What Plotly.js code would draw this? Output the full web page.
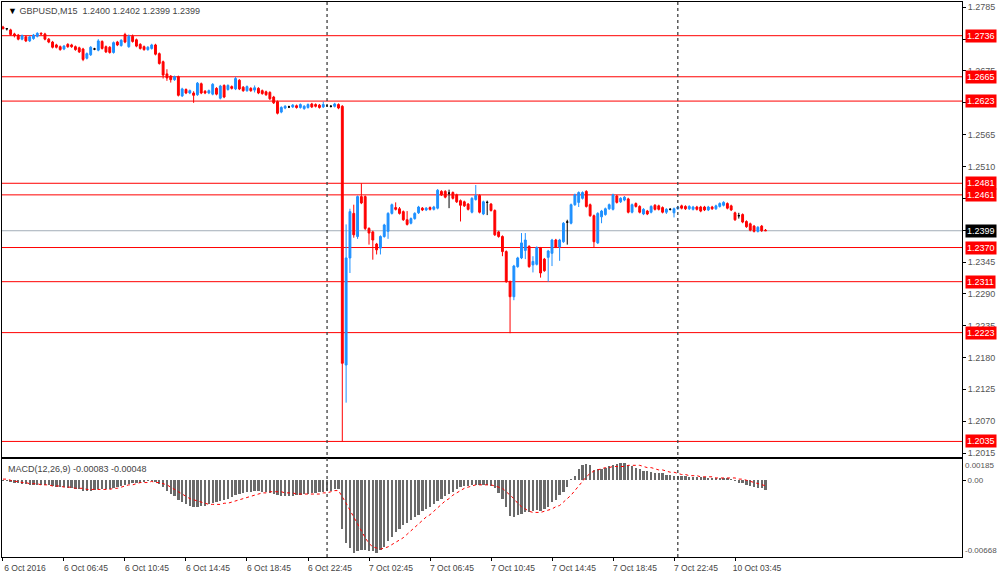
<!DOCTYPE html>
<html>
<head>
<meta charset="utf-8">
<script src="https://cdn.plot.ly/plotly-3.0.1.min.js"></script>
<style>
html,body{margin:0;padding:0;background:#fff;}
#chart{width:1000px;height:578px;}
</style>
</head>
<body>
<div id="chart"></div>
<script>
// ---- data (GBPUSD M15) ----
const symbol = "GBPUSD,M15";
const openP = [
1.2751,1.2748,1.2746,1.2739,1.2737,1.2730,1.2734,1.2727,1.2731,1.2735,
1.2740,1.2739,1.2730,1.2725,1.2720,1.2717,1.2713,1.2721,1.2720,1.2717,
1.2715,1.2713,1.2697,1.2703,1.2713,1.2711,1.2726,1.2717,1.2716,1.2707,
1.2725,1.2719,1.2738,1.2717,1.2735,1.2729,1.2721,1.2717,1.2712,1.2714,
1.2720,1.2705,1.2691,1.2670,1.2666,1.2660,1.2665,1.2632,1.2643,1.2637,
1.2637,1.2634,1.2653,1.2640,1.2637,1.2635,1.2645,1.2628,1.2650,1.2643,
1.2648,1.2644,1.2659,1.2647,1.2641,1.2645,1.2642,1.2645,1.2641,1.2639,
1.2638,1.2630,1.2622,1.2604,1.2611,1.2613,1.2613,1.2615,1.2612,1.2610,
1.2612,1.2618,1.2617,1.2616,1.2613,1.2615,1.2614,1.2614,1.2617,1.2614,
1.2167,1.2352,1.2429,1.2389,1.2458,1.2458,1.2403,1.2397,1.2376,1.2369,
1.2389,1.2398,1.2429,1.2439,1.2437,1.2432,1.2418,1.2412,1.2420,1.2430,
1.2438,1.2435,1.2439,1.2436,1.2438,1.2467,1.2467,1.2464,1.2465,1.2461,
1.2451,1.2449,1.2445,1.2431,1.2453,1.2460,1.2428,1.2448,1.2445,1.2434,
1.2397,1.2389,1.2363,1.2311,1.2285,1.2337,1.2352,1.2365,1.2372,1.2340,
1.2341,1.2369,1.2350,1.2353,1.2360,1.2383,1.2371,1.2380,1.2414,1.2412,
1.2444,1.2448,1.2455,1.2467,1.2444,1.2425,1.2378,1.2423,1.2427,1.2437,
1.2436,1.2459,1.2449,1.2452,1.2454,1.2431,1.2446,1.2441,1.2428,1.2433,
1.2431,1.2443,1.2442,1.2439,1.2431,1.2436,1.2430,1.2437,1.2442,1.2441,
1.2437,1.2436,1.2440,1.2440,1.2440,1.2435,1.2440,1.2437,1.2441,1.2443,
1.2446,1.2442,1.2430,1.2425,1.2427,1.2415,1.2411,1.2407,1.2398,1.2407,
1.2400];
const highP = [
1.2753,1.2749,1.2748,1.2741,1.2739,1.2738,1.2736,1.2736,1.2739,1.2742,
1.2742,1.2741,1.2732,1.2727,1.2722,1.2719,1.2720,1.2723,1.2722,1.2719,
1.2717,1.2715,1.2707,1.2718,1.2715,1.2730,1.2728,1.2719,1.2718,1.2726,
1.2727,1.2730,1.2741,1.2738,1.2738,1.2731,1.2723,1.2719,1.2718,1.2722,
1.2722,1.2707,1.2693,1.2678,1.2668,1.2667,1.2667,1.2646,1.2645,1.2643,
1.2640,1.2656,1.2655,1.2642,1.2643,1.2654,1.2647,1.2651,1.2652,1.2652,
1.2650,1.2665,1.2661,1.2649,1.2650,1.2647,1.2650,1.2647,1.2643,1.2641,
1.2640,1.2632,1.2624,1.2614,1.2616,1.2615,1.2618,1.2617,1.2619,1.2616,
1.2619,1.2620,1.2619,1.2618,1.2622,1.2617,1.2616,1.2620,1.2619,1.2616,
1.2410,1.2437,1.2444,1.2460,1.2481,1.2460,1.2405,1.2399,1.2378,1.2391,
1.2411,1.2431,1.2446,1.2448,1.2440,1.2434,1.2433,1.2422,1.2431,1.2442,
1.2440,1.2440,1.2441,1.2442,1.2471,1.2469,1.2469,1.2470,1.2467,1.2463,
1.2453,1.2451,1.2447,1.2457,1.2478,1.2462,1.2451,1.2451,1.2447,1.2436,
1.2399,1.2391,1.2365,1.2313,1.2340,1.2354,1.2395,1.2395,1.2374,1.2355,
1.2372,1.2371,1.2352,1.2366,1.2385,1.2385,1.2385,1.2414,1.2418,1.2446,
1.2463,1.2467,1.2467,1.2469,1.2446,1.2427,1.2431,1.2435,1.2439,1.2446,
1.2463,1.2461,1.2457,1.2459,1.2456,1.2446,1.2448,1.2443,1.2438,1.2435,
1.2443,1.2445,1.2444,1.2441,1.2438,1.2438,1.2439,1.2442,1.2444,1.2443,
1.2443,1.2442,1.2442,1.2442,1.2442,1.2442,1.2442,1.2444,1.2448,1.2450,
1.2448,1.2444,1.2432,1.2430,1.2429,1.2417,1.2413,1.2409,1.2407,1.2409,
1.2402];
const lowP = [
1.2747,1.2745,1.2736,1.2733,1.2728,1.2728,1.2725,1.2725,1.2729,1.2733,
1.2737,1.2728,1.2723,1.2714,1.2714,1.2710,1.2711,1.2715,1.2715,1.2710,
1.2706,1.2692,1.2695,1.2701,1.2711,1.2709,1.2712,1.2706,1.2705,1.2705,
1.2718,1.2717,1.2723,1.2715,1.2724,1.2716,1.2712,1.2710,1.2710,1.2712,
1.2702,1.2686,1.2662,1.2658,1.2655,1.2658,1.2631,1.2630,1.2635,1.2635,
1.2620,1.2632,1.2635,1.2635,1.2635,1.2633,1.2633,1.2626,1.2628,1.2641,
1.2643,1.2642,1.2642,1.2639,1.2639,1.2639,1.2638,1.2635,1.2634,1.2632,
1.2625,1.2618,1.2600,1.2602,1.2609,1.2611,1.2611,1.2610,1.2610,1.2608,
1.2610,1.2611,1.2612,1.2610,1.2611,1.2613,1.2612,1.2612,1.2609,1.2035,
1.2102,1.2326,1.2387,1.2385,1.2445,1.2400,1.2375,1.2349,1.2358,1.2358,
1.2387,1.2385,1.2427,1.2434,1.2427,1.2416,1.2408,1.2410,1.2418,1.2428,
1.2433,1.2433,1.2434,1.2434,1.2436,1.2459,1.2455,1.2438,1.2453,1.2447,
1.2415,1.2440,1.2434,1.2429,1.2451,1.2429,1.2426,1.2426,1.2432,1.2390,
1.2387,1.2355,1.2309,1.2222,1.2279,1.2335,1.2350,1.2350,1.2335,1.2327,
1.2339,1.2318,1.2328,1.2311,1.2338,1.2369,1.2347,1.2378,1.2375,1.2410,
1.2442,1.2440,1.2453,1.2439,1.2423,1.2370,1.2376,1.2412,1.2425,1.2435,
1.2434,1.2446,1.2447,1.2450,1.2429,1.2429,1.2439,1.2429,1.2426,1.2426,
1.2429,1.2434,1.2434,1.2429,1.2428,1.2434,1.2422,1.2435,1.2436,1.2435,
1.2435,1.2434,1.2434,1.2431,1.2433,1.2433,1.2435,1.2435,1.2439,1.2441,
1.2436,1.2433,1.2416,1.2420,1.2412,1.2404,1.2398,1.2396,1.2396,1.2397,
1.2399];
const closeP = [
1.2748,1.2748,1.2738,1.2736,1.2730,1.2736,1.2727,1.2734,1.2737,1.2740,
1.2739,1.2730,1.2725,1.2716,1.2716,1.2712,1.2718,1.2717,1.2717,1.2712,
1.2708,1.2695,1.2705,1.2716,1.2713,1.2727,1.2714,1.2708,1.2707,1.2724,
1.2720,1.2728,1.2725,1.2735,1.2726,1.2718,1.2714,1.2712,1.2716,1.2720,
1.2704,1.2688,1.2668,1.2663,1.2660,1.2665,1.2633,1.2644,1.2637,1.2641,
1.2633,1.2654,1.2637,1.2637,1.2641,1.2652,1.2635,1.2649,1.2630,1.2650,
1.2645,1.2662,1.2644,1.2641,1.2648,1.2641,1.2646,1.2637,1.2636,1.2634,
1.2627,1.2620,1.2602,1.2612,1.2614,1.2613,1.2616,1.2612,1.2617,1.2614,
1.2617,1.2613,1.2614,1.2612,1.2617,1.2615,1.2614,1.2618,1.2611,1.2170,
1.2352,1.2432,1.2392,1.2458,1.2447,1.2403,1.2395,1.2383,1.2366,1.2389,
1.2409,1.2429,1.2444,1.2436,1.2429,1.2418,1.2410,1.2420,1.2429,1.2440,
1.2435,1.2438,1.2436,1.2440,1.2469,1.2461,1.2457,1.2464,1.2455,1.2449,
1.2443,1.2442,1.2436,1.2455,1.2460,1.2431,1.2449,1.2448,1.2434,1.2392,
1.2389,1.2363,1.2311,1.2285,1.2338,1.2352,1.2378,1.2383,1.2337,1.2346,
1.2370,1.2326,1.2330,1.2364,1.2383,1.2371,1.2383,1.2412,1.2414,1.2444,
1.2461,1.2465,1.2465,1.2441,1.2425,1.2380,1.2429,1.2433,1.2437,1.2444,
1.2461,1.2448,1.2455,1.2457,1.2431,1.2444,1.2441,1.2431,1.2436,1.2428,
1.2441,1.2436,1.2436,1.2431,1.2436,1.2436,1.2437,1.2440,1.2438,1.2437,
1.2441,1.2440,1.2436,1.2433,1.2435,1.2440,1.2437,1.2442,1.2446,1.2448,
1.2438,1.2435,1.2418,1.2425,1.2414,1.2406,1.2400,1.2398,1.2405,1.2399,
1.2399];
const macdHist = [
-0.00005,-0.0001,-0.00015,-0.0002,-0.00025,-0.0003,-0.00035,-0.0004,-0.0004,-0.0004,
-0.0004,-0.0004,-0.00045,-0.0005,-0.00055,-0.0006,-0.0006,-0.00065,-0.0007,-0.00075,
-0.0008,-0.0009,-0.00095,-0.0009,-0.00085,-0.0008,-0.0008,-0.0008,-0.00075,-0.0007,
-0.0006,-0.0005,-0.0004,-0.0003,-0.00025,-0.0002,-0.0002,-0.00015,-0.0001,-0.0001,
-0.00015,-0.0003,-0.0006,-0.0009,-0.0012,-0.0014,-0.0017,-0.0019,-0.0021,-0.0022,
-0.0023,-0.0023,-0.0022,-0.0022,-0.0021,-0.002,-0.0019,-0.0018,-0.0017,-0.0016,
-0.0015,-0.0013,-0.0012,-0.0011,-0.001,-0.001,-0.00095,-0.00095,-0.001,-0.001,
-0.0011,-0.0012,-0.0013,-0.0014,-0.0014,-0.0014,-0.0014,-0.0013,-0.0013,-0.0012,
-0.0012,-0.0011,-0.0011,-0.001,-0.001,-0.0009,-0.0009,-0.0008,-0.0008,-0.0042,
-0.0055,-0.0059,-0.0063,-0.0062,-0.0061,-0.0061,-0.0062,-0.0062,-0.0063,-0.0061,
-0.0058,-0.0053,-0.0049,-0.0045,-0.0042,-0.0039,-0.0037,-0.0035,-0.0032,-0.003,
-0.0027,-0.0025,-0.0023,-0.0021,-0.0018,-0.0016,-0.0014,-0.0012,-0.001,-0.0008,
-0.0006,-0.0005,-0.0005,-0.0004,-0.0004,-0.0004,-0.0004,-0.0004,-0.0005,-0.0007,
-0.0011,-0.0016,-0.0023,-0.0031,-0.0032,-0.003,-0.0029,-0.0028,-0.0028,-0.0027,
-0.0026,-0.0027,-0.0025,-0.0023,-0.0019,-0.0017,-0.0013,-0.001,-0.0006,0.0001,
0.0004,0.001,0.0013,0.0014,0.0013,0.0009,0.001,0.001,0.0011,0.0012,
0.0013,0.0014,0.0015,0.0015,0.0013,0.0012,0.0011,0.001,0.0008,0.0008,
0.0007,0.0006,0.0006,0.0006,0.0005,0.0005,0.0004,0.0004,0.0004,0.0004,
0.0003,0.0003,0.0003,0.0003,0.0003,0.0002,0.0002,0.0002,0.0002,0.0002,
0.0002,0.0001,-0.0001,-0.0002,-0.0002,-0.0004,-0.0005,-0.0006,-0.0007,-0.0007,
-0.00083];
const macdSignal = [
0.0001,0.0001,0.0000,-0.0001,-0.0001,-0.0002,-0.0002,-0.0003,-0.0003,-0.0003,
-0.0004,-0.0004,-0.0004,-0.0005,-0.0005,-0.0005,-0.0006,-0.0006,-0.0006,-0.0007,
-0.0007,-0.0007,-0.0008,-0.0008,-0.0008,-0.0008,-0.0008,-0.0008,-0.0008,-0.0007,
-0.0007,-0.0006,-0.0005,-0.0004,-0.0004,-0.0003,-0.0002,-0.0002,-0.0002,-0.0001,
-0.0002,-0.0002,-0.0003,-0.0004,-0.0006,-0.0008,-0.001,-0.0012,-0.0014,-0.0016,
-0.0017,-0.0018,-0.0019,-0.002,-0.0021,-0.0021,-0.0021,-0.0021,-0.002,-0.002,
-0.0019,-0.0018,-0.0017,-0.0016,-0.0015,-0.0014,-0.0013,-0.0012,-0.0011,-0.0011,
-0.001,-0.001,-0.001,-0.001,-0.0011,-0.0011,-0.0011,-0.0012,-0.0012,-0.0012,
-0.0012,-0.0012,-0.0012,-0.0012,-0.0011,-0.0011,-0.001,-0.0009,-0.0009,-0.0014,
-0.002,-0.0026,-0.0032,-0.0038,-0.0045,-0.005,-0.0055,-0.0058,-0.0059,-0.006,
-0.0059,-0.0058,-0.0056,-0.0054,-0.0052,-0.005,-0.0047,-0.0044,-0.0041,-0.0038,
-0.0035,-0.0032,-0.003,-0.0027,-0.0024,-0.0021,-0.0018,-0.0016,-0.0013,-0.0011,
-0.0009,-0.0007,-0.0006,-0.0005,-0.0004,-0.0004,-0.0004,-0.0004,-0.0004,-0.0005,
-0.0006,-0.0007,-0.001,-0.0013,-0.0016,-0.002,-0.0023,-0.0025,-0.0027,-0.0028,
-0.0028,-0.0028,-0.0027,-0.0026,-0.0025,-0.0023,-0.0022,-0.0019,-0.0016,-0.0013,
-0.0009,-0.0005,0.0000,0.0003,0.0006,0.0008,0.0009,0.001,0.0011,0.0011,
0.0012,0.0012,0.0012,0.0012,0.0013,0.0013,0.0013,0.0013,0.0012,0.0011,
0.0011,0.001,0.0009,0.0009,0.0008,0.0007,0.0007,0.0006,0.0005,0.0005,
0.0004,0.0004,0.0004,0.0003,0.0003,0.0003,0.0003,0.0002,0.0002,0.0002,
0.0002,0.0002,0.0002,0.0001,0.0001,0.0000,-0.0001,-0.0002,-0.0003,-0.0004,
-0.00048];
const levelPrices = [1.2736, 1.2665, 1.2623, 1.2481, 1.2461, 1.2370, 1.2311, 1.2223, 1.2035];
const bidPrice = 1.2399;
const priceTicks = [1.2785,1.2730,1.2675,1.2620,1.2565,1.2510,1.2455,1.2400,1.2345,1.2290,1.2235,1.2180,1.2125,1.2070,1.2015];
const timeTickIdx = [0,16,32,48,64,80,96,112,128,144,160,176,192];
const timeTickLabels = ["6 Oct 2016","6 Oct 06:45","6 Oct 10:45","6 Oct 14:45","6 Oct 18:45","6 Oct 22:45","7 Oct 02:45","7 Oct 06:45","7 Oct 10:45","7 Oct 14:45","7 Oct 18:45","7 Oct 22:45","10 Oct 03:45"];
const separatorIdx = [85, 177];
const macdMax = 0.00185, macdMin = -0.00668;

// ---- build ----
const idx = openP.map((_, i) => i);
function pick(cond) {
  const s = idx.filter(cond);
  return {x: s, open: s.map(i=>openP[i]), high: s.map(i=>highP[i]), low: s.map(i=>lowP[i]), close: s.map(i=>closeP[i])};
}
function candle(sub, col) {
  return Object.assign({
    type: 'candlestick', xaxis: 'x2', yaxis: 'y', whiskerwidth: 0,
    increasing: {line: {color: col, width: 1}, fillcolor: col},
    decreasing: {line: {color: col, width: 1}, fillcolor: col},
    hoverinfo: 'skip', showlegend: false
  }, sub);
}
const BLUE = '#1E90FF', RED = '#FF0000';
const traces = [
  candle(pick(i => closeP[i] > openP[i]), BLUE),
  candle(pick(i => closeP[i] < openP[i]), RED),
  candle(pick(i => closeP[i] === openP[i]), '#000000'),
  {type: 'bar', x: idx, y: macdHist, xaxis: 'x', yaxis: 'y2', width: 0.62,
   marker: {color: '#6a6a6a', line: {width: 0}}, hoverinfo: 'skip', showlegend: false},
  {type: 'scatter', mode: 'lines', x: idx, y: macdSignal, xaxis: 'x', yaxis: 'y2',
   line: {color: RED, width: 1, dash: 'dot'}, hoverinfo: 'skip', showlegend: false}
];

const shapes = [];
levelPrices.forEach(p => shapes.push({type: 'line', xref: 'paper', x0: 0, x1: 1, yref: 'y', y0: p, y1: p,
  line: {color: RED, width: 1}, layer: 'below'}));
shapes.push({type: 'line', xref: 'paper', x0: 0, x1: 1, yref: 'y', y0: bidPrice, y1: bidPrice,
  line: {color: '#A3ADB8', width: 1}, layer: 'below'});
separatorIdx.forEach(s => shapes.push({type: 'line', xref: 'x', x0: s, x1: s, yref: 'paper', y0: 0, y1: 1,
  line: {color: '#404040', width: 1.3, dash: 'dot'}, layer: 'above'}));

const FONT = 'Liberation Sans, Arial, sans-serif';
const last = openP.length - 1;
const annotations = [];
levelPrices.forEach(p => annotations.push({xref: 'paper', x: 1, xshift: 3, xanchor: 'left', yref: 'y', y: p, yanchor: 'middle',
  text: p.toFixed(4), showarrow: false, bgcolor: RED, borderpad: 1, font: {family: FONT, size: 9, color: '#ffffff'}}));
annotations.push({xref: 'paper', x: 1, xshift: 3, xanchor: 'left', yref: 'y', y: bidPrice, yanchor: 'middle',
  text: bidPrice.toFixed(4), showarrow: false, bgcolor: '#000000', borderpad: 1, font: {family: FONT, size: 9, color: '#ffffff'}});
annotations.push({xref: 'paper', x: 0, xshift: 4, xanchor: 'left', yref: 'paper', y: 1, yshift: -2, yanchor: 'top',
  text: '<span style="color:#000">\u25BC</span>\u00A0' + symbol + '\u00A0\u00A0' + [openP[last], highP[last], lowP[last], closeP[last]].map(v => v.toFixed(4)).join('\u00A0'),
  showarrow: false, font: {family: FONT, size: 9, color: '#444'}});
const macdTop = 98 / 555;
annotations.push({xref: 'paper', x: 0, xshift: 4, xanchor: 'left', yref: 'paper', y: macdTop, yshift: -3, yanchor: 'top',
  text: 'MACD(12,26,9) ' + macdHist[last].toFixed(5) + '\u00A0' + macdSignal[last].toFixed(5),
  showarrow: false, font: {family: FONT, size: 9, color: '#444'}});
annotations.push({xref: 'paper', x: 1, xshift: 2, xanchor: 'left', yref: 'paper', y: macdTop, yshift: -1, yanchor: 'top',
  text: macdMax.toFixed(5), showarrow: false, borderpad: 0, font: {family: FONT, size: 8, color: '#555'}});
annotations.push({xref: 'paper', x: 1, xshift: 2, xanchor: 'left', yref: 'paper', y: 0, yshift: 1, yanchor: 'bottom',
  text: macdMin.toFixed(5), showarrow: false, borderpad: 0, font: {family: FONT, size: 8, color: '#555'}});

const layout = {
  width: 1000, height: 578,
  margin: {l: 2, r: 38, t: 2, b: 21, pad: 0},
  paper_bgcolor: '#ffffff', plot_bgcolor: '#ffffff',
  showlegend: false, dragmode: false,
  xaxis: {anchor: 'y2', domain: [0, 1], range: [-0.26, 251.54], tickvals: timeTickIdx, ticktext: timeTickLabels,
    ticks: 'outside', ticklen: 3, tickcolor: '#000', showline: true, mirror: true, linecolor: '#000', linewidth: 1,
    showgrid: false, zeroline: false, ticklabelshift: 22, tickfont: {family: FONT, size: 8.5, color: '#444'},
    rangeslider: {visible: false}, fixedrange: true},
  xaxis2: {anchor: 'y', matches: 'x', showticklabels: false, ticks: '', showline: true, mirror: true,
    linecolor: '#000', linewidth: 1, showgrid: false, zeroline: false, rangeslider: {visible: false}},
  yaxis: {domain: [100 / 555, 1], anchor: 'x2', side: 'right', range: [1.20081, 1.27942],
    tickvals: priceTicks, ticktext: priceTicks.map(v => v.toFixed(4)), ticks: 'outside', ticklen: 3, tickcolor: '#000',
    showline: true, mirror: true, linecolor: '#000', linewidth: 1, showgrid: false, zeroline: false,
    tickfont: {family: FONT, size: 9, color: '#555'}, fixedrange: true},
  yaxis2: {domain: [0, macdTop], anchor: 'x', side: 'right', range: [macdMin, macdMax],
    tickvals: [0], ticktext: ['0.00'], ticks: 'outside', ticklen: 3, tickcolor: '#000',
    showline: true, mirror: true, linecolor: '#000', linewidth: 1, showgrid: false, zeroline: false,
    tickfont: {family: FONT, size: 8, color: '#555'}, fixedrange: true},
  bargap: 0,
  shapes: shapes,
  annotations: annotations
};

Plotly.newPlot('chart', traces, layout, {staticPlot: true, displayModeBar: false});
</script>
</body>
</html>
